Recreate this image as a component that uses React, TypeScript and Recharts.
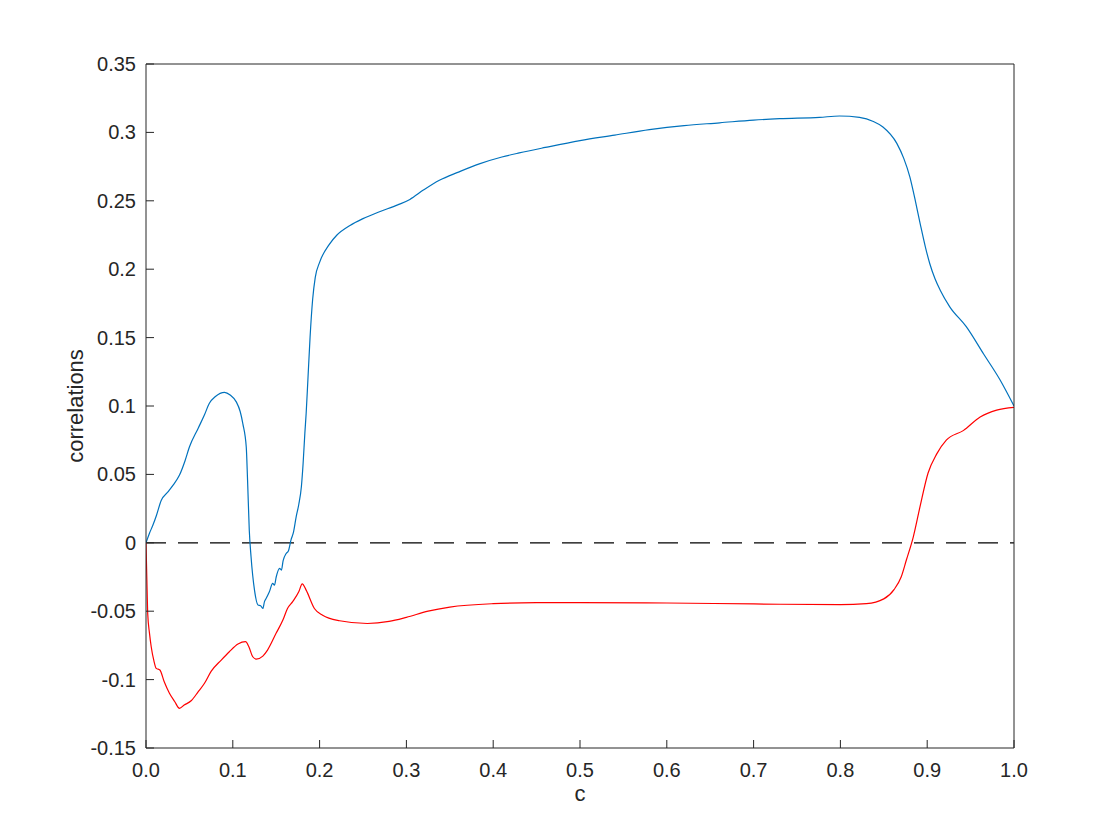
import { LineChart, Line, XAxis, YAxis, ReferenceLine } from 'recharts';

// c positions and correlation values
const blueC = [
  0, 0.004, 0.008, 0.012, 0.0175, 0.025, 0.031, 0.0386, 0.045, 0.05, 0.06, 0.067, 0.073, 0.08, 0.0905,
  0.097, 0.104, 0.1085, 0.1116, 0.1155, 0.117, 0.119, 0.121, 0.125, 0.129, 0.132, 0.1346, 0.1365,
  0.1385, 0.142, 0.146, 0.148, 0.15, 0.154, 0.156, 0.158, 0.1615, 0.164, 0.167, 0.17, 0.173, 0.176,
  0.179, 0.181, 0.183, 0.1845, 0.1865, 0.189, 0.192, 0.195, 0.2, 0.211, 0.22, 0.235, 0.25, 0.269, 0.29,
  0.304, 0.32, 0.338, 0.36, 0.384, 0.41, 0.43, 0.46, 0.5, 0.54, 0.58, 0.62, 0.661, 0.7, 0.73, 0.776,
  0.799, 0.822, 0.838, 0.849, 0.865, 0.873, 0.88, 0.886, 0.892, 0.898, 0.903, 0.909, 0.915, 0.926,
  0.945, 0.965, 0.984, 1.0,
]
const blueR = [
  0, 0.007, 0.013, 0.02, 0.031, 0.037, 0.042, 0.0495, 0.06, 0.07, 0.0836, 0.093, 0.102, 0.107, 0.11,
  0.108, 0.103, 0.096, 0.087, 0.07, 0.046, 0.009, -0.01, -0.0346, -0.0455, -0.046, -0.048, -0.043,
  -0.0406, -0.036, -0.0297, -0.031, -0.025, -0.0187, -0.02, -0.013, -0.0078, -0.006, 0.002, 0.008,
  0.019, 0.028, 0.041, 0.058, 0.08, 0.0945, 0.119, 0.15, 0.178, 0.194, 0.205, 0.218, 0.225, 0.232,
  0.237, 0.242, 0.247, 0.251, 0.258, 0.265, 0.271, 0.277, 0.282, 0.285, 0.289, 0.294, 0.298, 0.302,
  0.305, 0.307, 0.309, 0.31, 0.311, 0.312, 0.311, 0.308, 0.304, 0.292, 0.281, 0.2675, 0.251, 0.233,
  0.216, 0.204, 0.193, 0.1846, 0.1725, 0.158, 0.138, 0.119, 0.1,
]

const redC = [
  0, 0.001, 0.002, 0.004, 0.006, 0.009, 0.0118, 0.016, 0.021, 0.027, 0.033, 0.0386, 0.044, 0.052,
  0.06, 0.0674, 0.075, 0.0867, 0.096, 0.106, 0.1147, 0.1185, 0.123, 0.127, 0.1346, 0.14, 0.15, 0.1577,
  0.163, 0.169, 0.176, 0.18, 0.1845, 0.194, 0.2035, 0.223, 0.255, 0.28, 0.3, 0.325, 0.35, 0.4, 0.45,
  0.5, 0.6, 0.7, 0.8, 0.83, 0.85, 0.862, 0.87, 0.876, 0.884, 0.8916, 0.901, 0.911, 0.922, 0.9415,
  0.961, 0.98, 1.0,
]
const redR = [
  0, -0.027, -0.052, -0.066, -0.076, -0.086, -0.0918, -0.093, -0.1016, -0.11, -0.116, -0.121, -0.1186,
  -0.1155, -0.109, -0.1027, -0.094, -0.0857, -0.0796, -0.074, -0.0723, -0.076, -0.0833, -0.085,
  -0.0828, -0.0784, -0.066, -0.0565, -0.048, -0.043, -0.0358, -0.03, -0.0346, -0.048, -0.053, -0.057,
  -0.059, -0.0575, -0.0545, -0.05, -0.047, -0.0445, -0.0438, -0.0437, -0.044, -0.0447, -0.0452,
  -0.0445, -0.041, -0.034, -0.025, -0.0126, 0.0044, 0.026, 0.051, 0.065, 0.075, 0.082, 0.092, 0.097,
  0.099,
]

const xTicks = [0, 0.1, 0.2, 0.3, 0.4, 0.5, 0.6, 0.7, 0.8, 0.9, 1.0]
const yTicks = [-0.15, -0.1, -0.05, 0, 0.05, 0.1, 0.15, 0.2, 0.25, 0.3, 0.35]

const blueData = blueC.map((c, i) => ({ c, r: blueR[i] }))
const redData = redC.map((c, i) => ({ c, r: redR[i] }))

const axisColor = '#262626'
const font = '"Liberation Sans", Arial, Helvetica, sans-serif'
const TICK_LEN = 8
const X_MARGIN = 29
const Y_MARGIN = 10

// MATLAB-style inward ticks
const BottomTick = (props: any) => {
  const { x, y, payload } = props
  const y0 = y - X_MARGIN
  return (
    <g>
      <line x1={x} x2={x} y1={y0} y2={y0 - TICK_LEN} stroke={axisColor} />
      <text x={x} y={y} textAnchor="middle" fontSize={20} fill={axisColor} fontFamily={font}>
        {payload.value.toFixed(1)}
      </text>
    </g>
  )
}

const LeftTick = (props: any) => {
  const { x, y, payload } = props
  const x0 = x + Y_MARGIN
  return (
    <g>
      <line x1={x0} x2={x0 + TICK_LEN} y1={y} y2={y} stroke={axisColor} />
      <text x={x} y={y} dy="0.35em" textAnchor="end" fontSize={20} fill={axisColor} fontFamily={font}>
        {String(Number(payload.value.toFixed(2)))}
      </text>
    </g>
  )
}

const TopTick = (props: any) => {
  const { x, y } = props
  return <line x1={x} x2={x} y1={y} y2={y + TICK_LEN} stroke={axisColor} />
}

const RightTick = (props: any) => {
  const { x, y } = props
  return <line x1={x} x2={x - TICK_LEN} y1={y} y2={y} stroke={axisColor} />
}

export default function App() {
  return (
    <div style={{ position: 'absolute', left: 0, top: 0, background: 'white' }}>
      <LineChart
        width={1120}
        height={840}
        margin={{ top: 63, right: 105, bottom: 32, left: 60 }}
      >
        <XAxis
          dataKey="c"
          type="number"
          domain={[0, 1]}
          ticks={xTicks}
          allowDataOverflow
          height={60}
          tickSize={0}
          tickMargin={X_MARGIN}
          tickLine={false}
          stroke={axisColor}
          tick={<BottomTick />}
          label={{
            value: 'c',
            position: 'insideBottom',
            offset: 7,
            style: { fontSize: 22, fill: axisColor, fontFamily: font },
          }}
        />
        <XAxis
          xAxisId="top"
          orientation="top"
          dataKey="c"
          type="number"
          domain={[0, 1]}
          ticks={xTicks}
          height={1}
          tickSize={0}
          tickMargin={0}
          tickLine={false}
          tick={<TopTick />}
          stroke={axisColor}
        />
        <YAxis
          type="number"
          domain={[-0.15, 0.35]}
          ticks={yTicks}
          allowDataOverflow
          width={86}
          tickSize={0}
          tickMargin={Y_MARGIN}
          tickLine={false}
          stroke={axisColor}
          tick={<LeftTick />}
          label={{
            value: 'correlations',
            angle: -90,
            position: 'insideLeft',
            offset: 15,
            style: { fontSize: 22, fill: axisColor, fontFamily: font, textAnchor: 'middle' },
          }}
        />
        <YAxis
          yAxisId="right"
          orientation="right"
          type="number"
          domain={[-0.15, 0.35]}
          ticks={yTicks}
          width={1}
          tickSize={0}
          tickMargin={0}
          tickLine={false}
          tick={<RightTick />}
          stroke={axisColor}
        />
        <ReferenceLine y={0} stroke="#000000" strokeWidth={1.2} strokeDasharray="20 12" />
        <Line
          data={blueData}
          dataKey="r"
          type="monotone"
          stroke="#0072BD"
          strokeWidth={1.2}
          dot={false}
          isAnimationActive={false}
        />
        <Line
          data={redData}
          dataKey="r"
          type="monotone"
          stroke="#FF0000"
          strokeWidth={1.2}
          dot={false}
          isAnimationActive={false}
        />
      </LineChart>
    </div>
  )
}
